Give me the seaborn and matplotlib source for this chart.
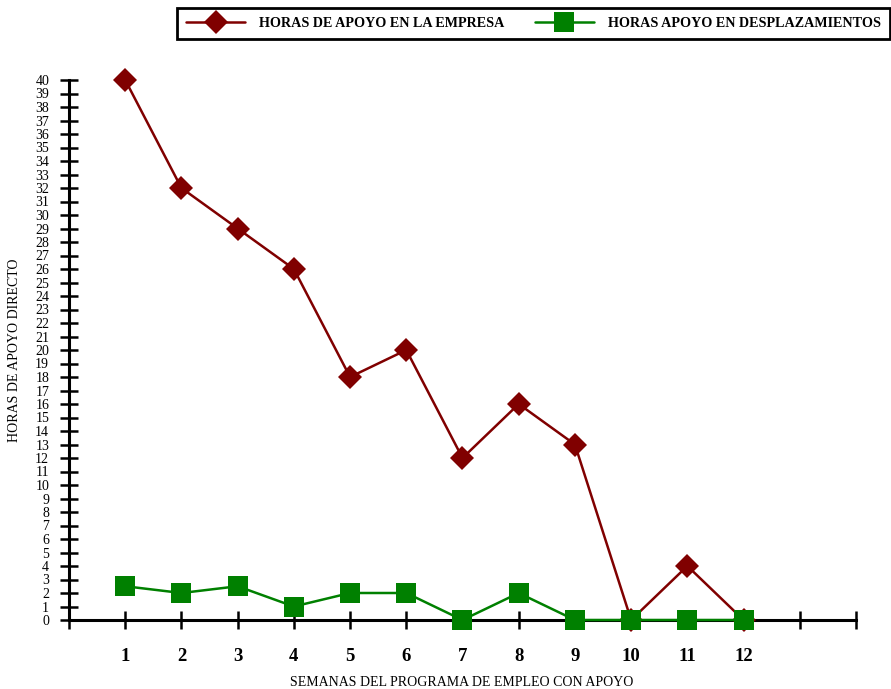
import matplotlib
matplotlib.use("Agg")
import matplotlib.pyplot as plt
import seaborn as sns
import pandas as pd
from matplotlib.lines import Line2D

semanas = list(range(1, 13))
horas_empresa = [40, 32, 29, 26, 18, 20, 12, 16, 13, 0, 4, 0]
horas_desplazamientos = [2.5, 2, 2.5, 1, 2, 2, 0, 2, 0, 0, 0, 0]
serie_empresa = "HORAS DE APOYO EN LA EMPRESA"
serie_desplaz = "HORAS APOYO EN DESPLAZAMIENTOS"
x_labels = [str(s) for s in semanas]

sns.set_theme(style="white")
plt.rcParams["font.family"] = ["Liberation Serif", "DejaVu Serif"]
plt.rcParams["text.color"] = "black"
plt.rcParams["axes.labelcolor"] = "black"
plt.rcParams["xtick.color"] = "black"
plt.rcParams["ytick.color"] = "black"

df = pd.DataFrame({
    "semana": semanas * 2,
    "horas": horas_empresa + horas_desplazamientos,
    "serie": [serie_empresa] * 12 + [serie_desplaz] * 12,
})

colors = {serie_empresa: "#800000", serie_desplaz: "#008000"}
markers = {serie_empresa: "D", serie_desplaz: "s"}

fig = plt.figure(figsize=(8.91, 6.89), dpi=100)
ax = fig.add_axes([69 / 891, 1 - 620 / 689, (856 - 69) / 891, (620 - 80) / 689])

sns.lineplot(data=df, x="semana", y="horas", hue="serie", style="serie",
             palette=colors, markers=markers, dashes=False, markersize=12,
             markeredgewidth=0, linewidth=1.8, ax=ax, legend=False)
for ln in ax.lines:
    ln.set_clip_on(False)
    ln.set_zorder(5)
ax.lines[0].set_markersize(12)
ax.lines[1].set_markersize(14)

ax.set_xlim(0, 14)
ax.set_ylim(0, 40)
for s in ["top", "right"]:
    ax.spines[s].set_visible(False)
for s in ["left", "bottom"]:
    ax.spines[s].set_color("black")
    ax.spines[s].set_linewidth(2.2)

ax.set_yticks(range(0, 41))
ax.set_yticklabels([str(v) for v in range(0, 41)], fontsize=10)
ax.set_xticks(range(0, 15))
ax.set_xticklabels([""] + x_labels + ["", ""], fontsize=13.5, fontweight="bold")
ax.tick_params(axis="y", left=True, direction="inout", length=12.5, width=1.8,
               color="black", labelcolor="black", pad=8)
ax.tick_params(axis="x", bottom=True, direction="inout", length=12.5, width=1.8,
               color="black", labelcolor="black", pad=14)

ax.set_xlabel("")
fig.text(462 / 891, 1 - 683 / 689, "SEMANAS DEL PROGRAMA DE EMPLEO CON APOYO",
         fontsize=10, ha="center", va="center", color="black")
ax.set_ylabel("HORAS DE APOYO DIRECTO", fontsize=10, labelpad=10)

handles = [
    Line2D([], [], color=colors[serie_empresa], marker="D", markersize=12, lw=1.8, markeredgewidth=0),
    Line2D([], [], color=colors[serie_desplaz], marker="s", markersize=14, lw=1.8, markeredgewidth=0),
]
leg = fig.legend(handles, [serie_empresa, serie_desplaz], loc="upper right",
                 bbox_to_anchor=(890 / 891, 1 - 8 / 689), ncol=2, frameon=True,
                 fancybox=False, edgecolor="black", framealpha=1.0,
                 handlelength=4.2, columnspacing=2.1, borderpad=0.62,
                 handletextpad=1.0, borderaxespad=0.0,
                 prop={"family": "Liberation Serif", "weight": "bold", "size": 10.2})
leg.get_frame().set_linewidth(2)
for t in leg.get_texts():
    t.set_color("black")

fig.savefig("out.png", dpi=100)
